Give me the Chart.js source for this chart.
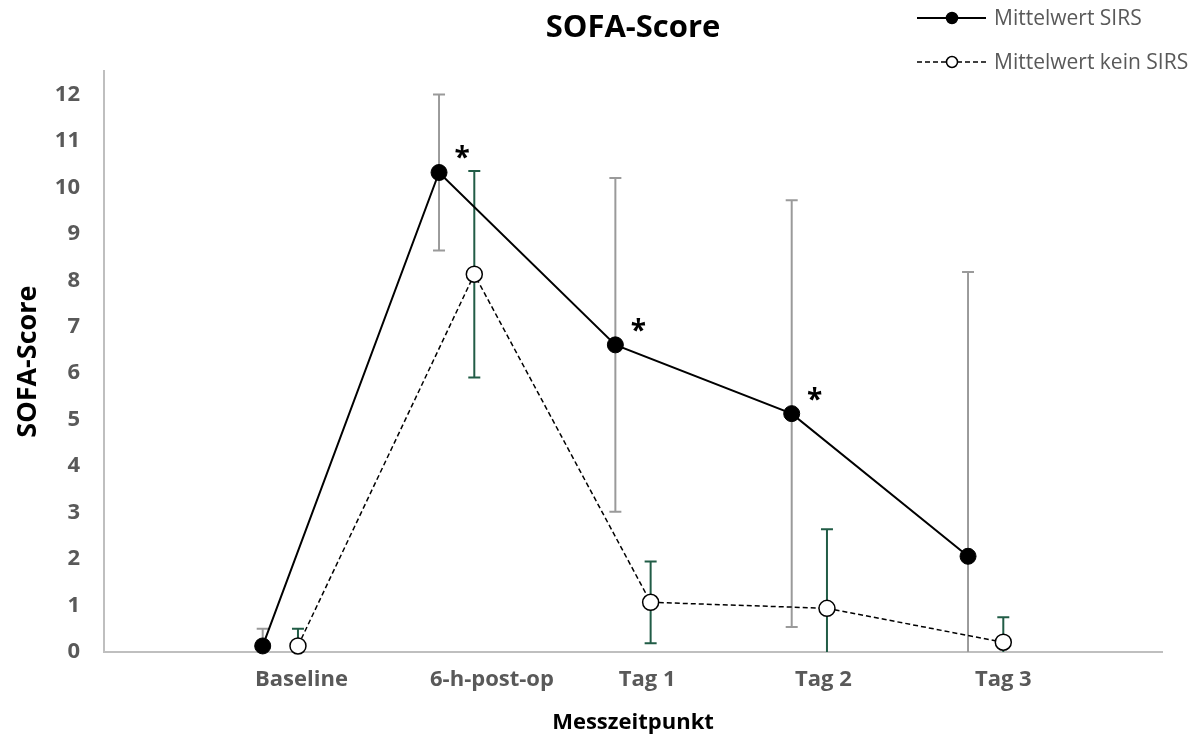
<!DOCTYPE html>
<html>
<head>
<meta charset="utf-8">
<script src="https://cdn.jsdelivr.net/npm/chart.js@4.4.1/dist/chart.umd.min.js"></script>
<style>
  html, body { margin: 0; padding: 0; background: #ffffff; }
  #wrap { width: 1197px; height: 740px; position: relative; }
</style>
</head>
<body>
<div id="wrap"><canvas id="c" width="1197" height="740"></canvas></div>
<script>
// ---- data ----
const categories = ['Baseline', '6-h-post-op', 'Tag 1', 'Tag 2', 'Tag 3'];
const categoryLabelX = [1.22, 2.30, 3.18, 4.18, 5.20];   // x value where each category label sits
const sirsX = [1, 2, 3, 4, 5];
const keinX = [1.2, 2.2, 3.2, 4.2, 5.2];
const sirsMean = [0.13, 10.32, 6.61, 5.13, 2.06];
const sirsSD   = [0.37, 1.68, 3.59, 4.59, 6.12];
const keinMean = [0.13, 8.13, 1.07, 0.94, 0.21];
const keinSD   = [0.37, 2.22, 0.88, 1.70, 0.54];
const sirsSignificant = [false, true, true, true, false];
const yTicks = [0, 1, 2, 3, 4, 5, 6, 7, 8, 9, 10, 11, 12];

const FONT = "'Open Sans', 'DejaVu Sans', sans-serif";
const GREY_TXT = '#595959';

const errorBarPlugin = {
  id: 'errorBars',
  beforeDatasetsDraw(chart) {
    const ctx = chart.ctx, ys = chart.scales.y, a = chart.chartArea;
    ctx.save();
    ctx.beginPath();
    ctx.rect(a.left, a.top - 2, a.right - a.left, a.bottom - a.top + 2);
    ctx.clip();
    chart.data.datasets.forEach((ds, i) => {
      const meta = chart.getDatasetMeta(i);
      ctx.strokeStyle = ds.errColor;
      ctx.lineWidth = 2;
      ds.data.forEach((p, j) => {
        const x = meta.data[j].x;
        const yt = ys.getPixelForValue(p.y + ds.sd[j]);
        const yb = ys.getPixelForValue(p.y - ds.sd[j]);
        ctx.beginPath();
        ctx.moveTo(x, yt); ctx.lineTo(x, yb);
        ctx.moveTo(x - 6, yt); ctx.lineTo(x + 6, yt);
        ctx.moveTo(x - 6, yb); ctx.lineTo(x + 6, yb);
        ctx.stroke();
      });
    });
    ctx.restore();
  },
  afterDatasetsDraw(chart) {
    const ctx = chart.ctx;
    const meta = chart.getDatasetMeta(0);
    ctx.save();
    ctx.fillStyle = '#000000';
    ctx.font = 'bold 28px ' + FONT;
    ctx.textAlign = 'center';
    ctx.textBaseline = 'alphabetic';
    sirsSignificant.forEach((s, j) => {
      if (!s) return;
      const pt = meta.data[j];
      ctx.fillText('*', pt.x + 23, pt.y - 21 + 16);
    });
    ctx.restore();
  },
  afterDraw(chart) {
    // legend at top right
    const ctx = chart.ctx;
    const items = chart.data.datasets;
    const rows = [18, 62];
    ctx.save();
    items.forEach((ds, i) => {
      const y = rows[i];
      ctx.strokeStyle = '#000000';
      ctx.lineWidth = ds.borderWidth;
      ctx.setLineDash(ds.borderDash || []);
      ctx.beginPath();
      ctx.moveTo(917, y); ctx.lineTo(986, y);
      ctx.stroke();
      ctx.setLineDash([]);
      ctx.beginPath();
      ctx.arc(952, y, 5.5, 0, Math.PI * 2);
      ctx.fillStyle = ds.pointBackgroundColor;
      ctx.fill();
      ctx.lineWidth = 1.5;
      ctx.stroke();
      ctx.fillStyle = GREY_TXT;
      ctx.font = '21px ' + FONT;
      ctx.textAlign = 'left';
      ctx.textBaseline = 'middle';
      ctx.fillText(ds.label, 994, y + 1);
    });
    ctx.restore();
  }
};

new Chart(document.getElementById('c'), {
  type: 'line',
  data: {
    datasets: [
      {
        label: 'Mittelwert SIRS',
        data: sirsX.map((x, i) => ({ x: x, y: sirsMean[i] })),
        sd: sirsSD,
        errColor: '#9a9a9a',
        borderColor: '#000000',
        borderWidth: 2,
        pointRadius: 8,
        pointBackgroundColor: '#000000',
        pointBorderColor: '#000000',
        pointBorderWidth: 1,
        tension: 0,
        clip: false
      },
      {
        label: 'Mittelwert kein SIRS',
        data: keinX.map((x, i) => ({ x: x, y: keinMean[i] })),
        sd: keinSD,
        errColor: '#215c46',
        borderColor: '#000000',
        borderWidth: 1.5,
        borderDash: [5, 3],
        pointRadius: 8,
        pointBackgroundColor: '#ffffff',
        pointBorderColor: '#000000',
        pointBorderWidth: 1.5,
        tension: 0,
        clip: false
      }
    ]
  },
  options: {
    responsive: false,
    animation: false,
    events: [],
    layout: { padding: { left: 0, right: 35, top: 0, bottom: 0 } },
    plugins: {
      legend: { display: false },
      tooltip: { enabled: false },
      title: {
        display: true,
        fullSize: false,
        text: 'SOFA-Score',
        color: '#000000',
        font: { family: FONT, size: 31, weight: 'bold', lineHeight: 1.2 },
        padding: { top: 10, bottom: 24 }
      }
    },
    scales: {
      x: {
        type: 'linear',
        min: 0.1,
        max: 6.1,
        grid: { display: false, drawTicks: false },
        border: { display: true, color: '#bfbfbf', width: 2 },
        afterBuildTicks: (s) => { s.ticks = categoryLabelX.map(v => ({ value: v })); },
        afterFit: (s) => { s.height = 88; },
        ticks: {
          autoSkip: false,
          maxRotation: 0,
          padding: 15,
          color: GREY_TXT,
          font: { family: FONT, size: 22, weight: 'bold' },
          callback: (v, i) => categories[i]
        },
        title: {
          display: true,
          text: 'Messzeitpunkt',
          color: '#000000',
          font: { family: FONT, size: 22, weight: 'bold', lineHeight: 1.2 },
          padding: { top: 0 }
        }
      },
      y: {
        min: 0,
        max: 12.5,
        grid: { display: false, drawTicks: false },
        border: { display: true, color: '#bfbfbf', width: 2 },
        afterBuildTicks: (s) => { s.ticks = yTicks.map(v => ({ value: v })); },
        afterFit: (s) => { s.width = 104; },
        ticks: {
          padding: 24,
          color: GREY_TXT,
          font: { family: FONT, size: 22, weight: 'bold' },
          callback: (v) => String(v)
        },
        title: {
          display: true,
          text: 'SOFA-Score',
          color: '#000000',
          font: { family: FONT, size: 27, weight: 'bold', lineHeight: 1.2 },
          padding: { top: 12 }
        }
      }
    }
  },
  plugins: [errorBarPlugin]
});
</script>
</body>
</html>
